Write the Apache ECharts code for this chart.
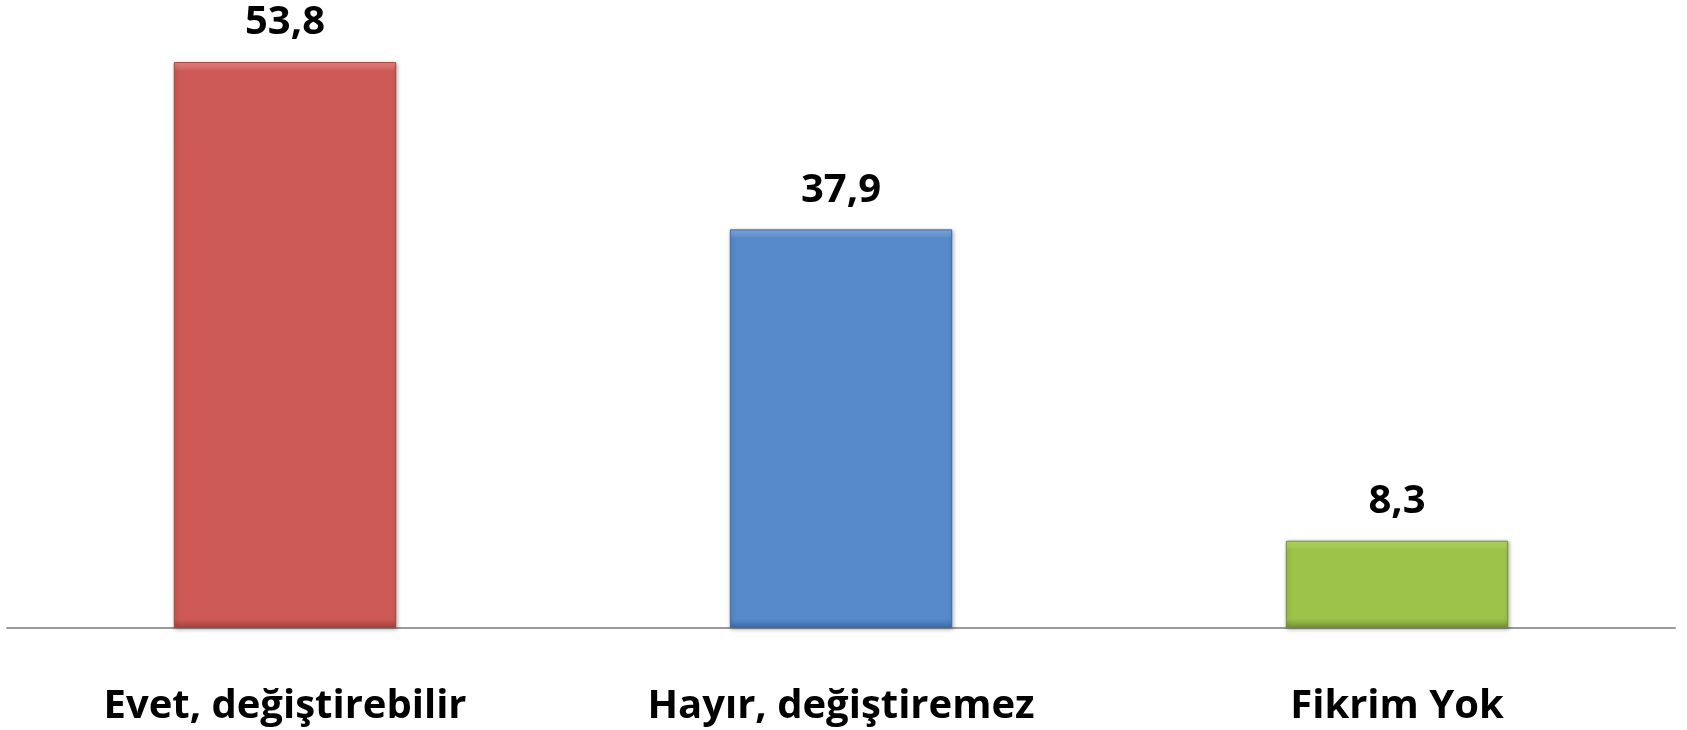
<!DOCTYPE html>
<html>
<head>
<meta charset="utf-8">
<script src="https://cdn.jsdelivr.net/npm/echarts@6/dist/echarts.min.js"></script>
<style>
  html, body { margin: 0; padding: 0; background: #fff; }
  #chart { width: 1687px; height: 730px; }
</style>
</head>
<body>
<div id="chart"></div>
<script>
const categories = ['Evet, değiştirebilir', 'Hayır, değiştiremez', 'Fikrim Yok'];
const values = [53.8, 37.9, 8.3];
const barColors = [
  ['#EE8A86', '#CD5956', '#A64340'],
  ['#86AEE2', '#578ACB', '#3D6BA8'],
  ['#B9DD66', '#9DC34B', '#748F37']
];

const FONT = '"Open Sans", "Noto Sans", sans-serif';
const chart = echarts.init(document.getElementById('chart'));

const pxPerUnit = 566 / 53.8; // rough bar scale, only for bevel band size

const option = {
  animation: false,
  grid: { left: 7, right: 12, top: 60, bottom: 102 },
  xAxis: {
    type: 'category',
    data: categories,
    axisLine: { lineStyle: { color: '#9a9a9a', width: 2 } },
    axisTick: { show: false },
    axisLabel: {
      margin: 59,
      fontFamily: FONT,
      fontWeight: 'bold',
      fontSize: 40,
      color: '#000'
    }
  },
  yAxis: {
    type: 'value',
    min: 0,
    max: 54,
    show: false,
    splitLine: { show: false }
  },
  series: [{
    type: 'bar',
    barWidth: '40%',
    data: values.map((v, i) => {
      const band = Math.min(0.3, 9 / (v * pxPerUnit));
      const c = barColors[i];
      return {
        value: v,
        itemStyle: {
          color: new echarts.graphic.LinearGradient(0, 0, 0, 1, [
            { offset: 0, color: c[0] },
            { offset: band, color: c[1] },
            { offset: 1 - band, color: c[1] },
            { offset: 1, color: c[2] }
          ]),
          borderColor: c[2],
          borderWidth: 1,
          shadowColor: 'rgba(0,0,0,0.3)',
          shadowBlur: 4,
          shadowOffsetX: 1,
          shadowOffsetY: 1
        }
      };
    }),
    label: {
      show: true,
      position: 'top',
      distance: 19,
      fontFamily: FONT,
      fontWeight: 'bold',
      fontSize: 40,
      color: '#000',
      formatter: p => p.value.toFixed(1).replace('.', ',')
    }
  }]
};

chart.setOption(option);
</script>
</body>
</html>
